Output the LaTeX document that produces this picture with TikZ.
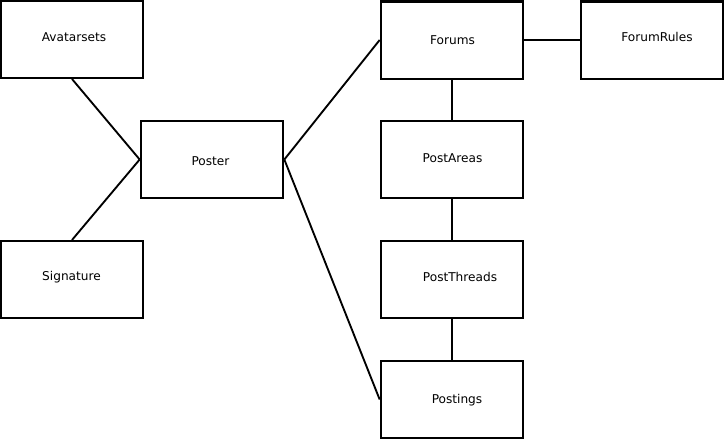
\documentclass[tikz,border=0pt]{standalone}
\usepackage{fontspec}
\setmainfont{DejaVu Sans}
\begin{document}
\begin{tikzpicture}[x=0.75pt,y=-0.75pt,
  entity/.style={draw=black,line width=1.5pt,fill=white,minimum width=107pt,minimum height=57.75pt,inner sep=0pt},
  lbl/.style={anchor=base,inner sep=0pt,font=\fontsize{9.1pt}{10pt}\selectfont},
  link/.style={line width=1.4pt}]
\useasboundingbox[fill=white] (0,0) rectangle (724,439);
\node[entity] (avatar) at (72,39.5) {};
\node[entity] (signature) at (72,279.5) {};
\node[entity] (poster) at (212,159.5) {};
\node[entity] (forums) at (452,40) {};
\node[entity] (forumrules) at (652,40) {};
\node[entity] (postareas) at (452,159.5) {};
\node[entity] (postthreads) at (452,279.5) {};
\node[entity] (postings) at (452,399.5) {};
\node[lbl] (tavatar) at (74,41) {Avatarsets};
\node[lbl] (tsignature) at (71.5,280.5) {Signature};
\node[lbl] (tposter) at (210.5,165) {Poster};
\node[lbl] (tforums) at (452.5,44) {Forums};
\node[lbl] (tforumrules) at (657,41) {ForumRules};
\node[lbl] (tpostareas) at (452.5,162) {PostAreas};
\node[lbl] (tpostthreads) at (460,281) {PostThreads};
\node[lbl] (tpostings) at (457,403) {Postings};
\draw[link] (avatar.south) -- (poster.west);
\draw[link] (signature.north) -- (poster.west);
\draw[link] (poster.east) -- (forums.west);
\draw[link] (poster.east) -- (postings.west);
\draw[link] (forums.east) -- (forumrules.west);
\draw[link] (forums.south) -- (postareas.north);
\draw[link] (postareas.south) -- (postthreads.north);
\draw[link] (postthreads.south) -- (postings.north);
\end{tikzpicture}
\end{document}
